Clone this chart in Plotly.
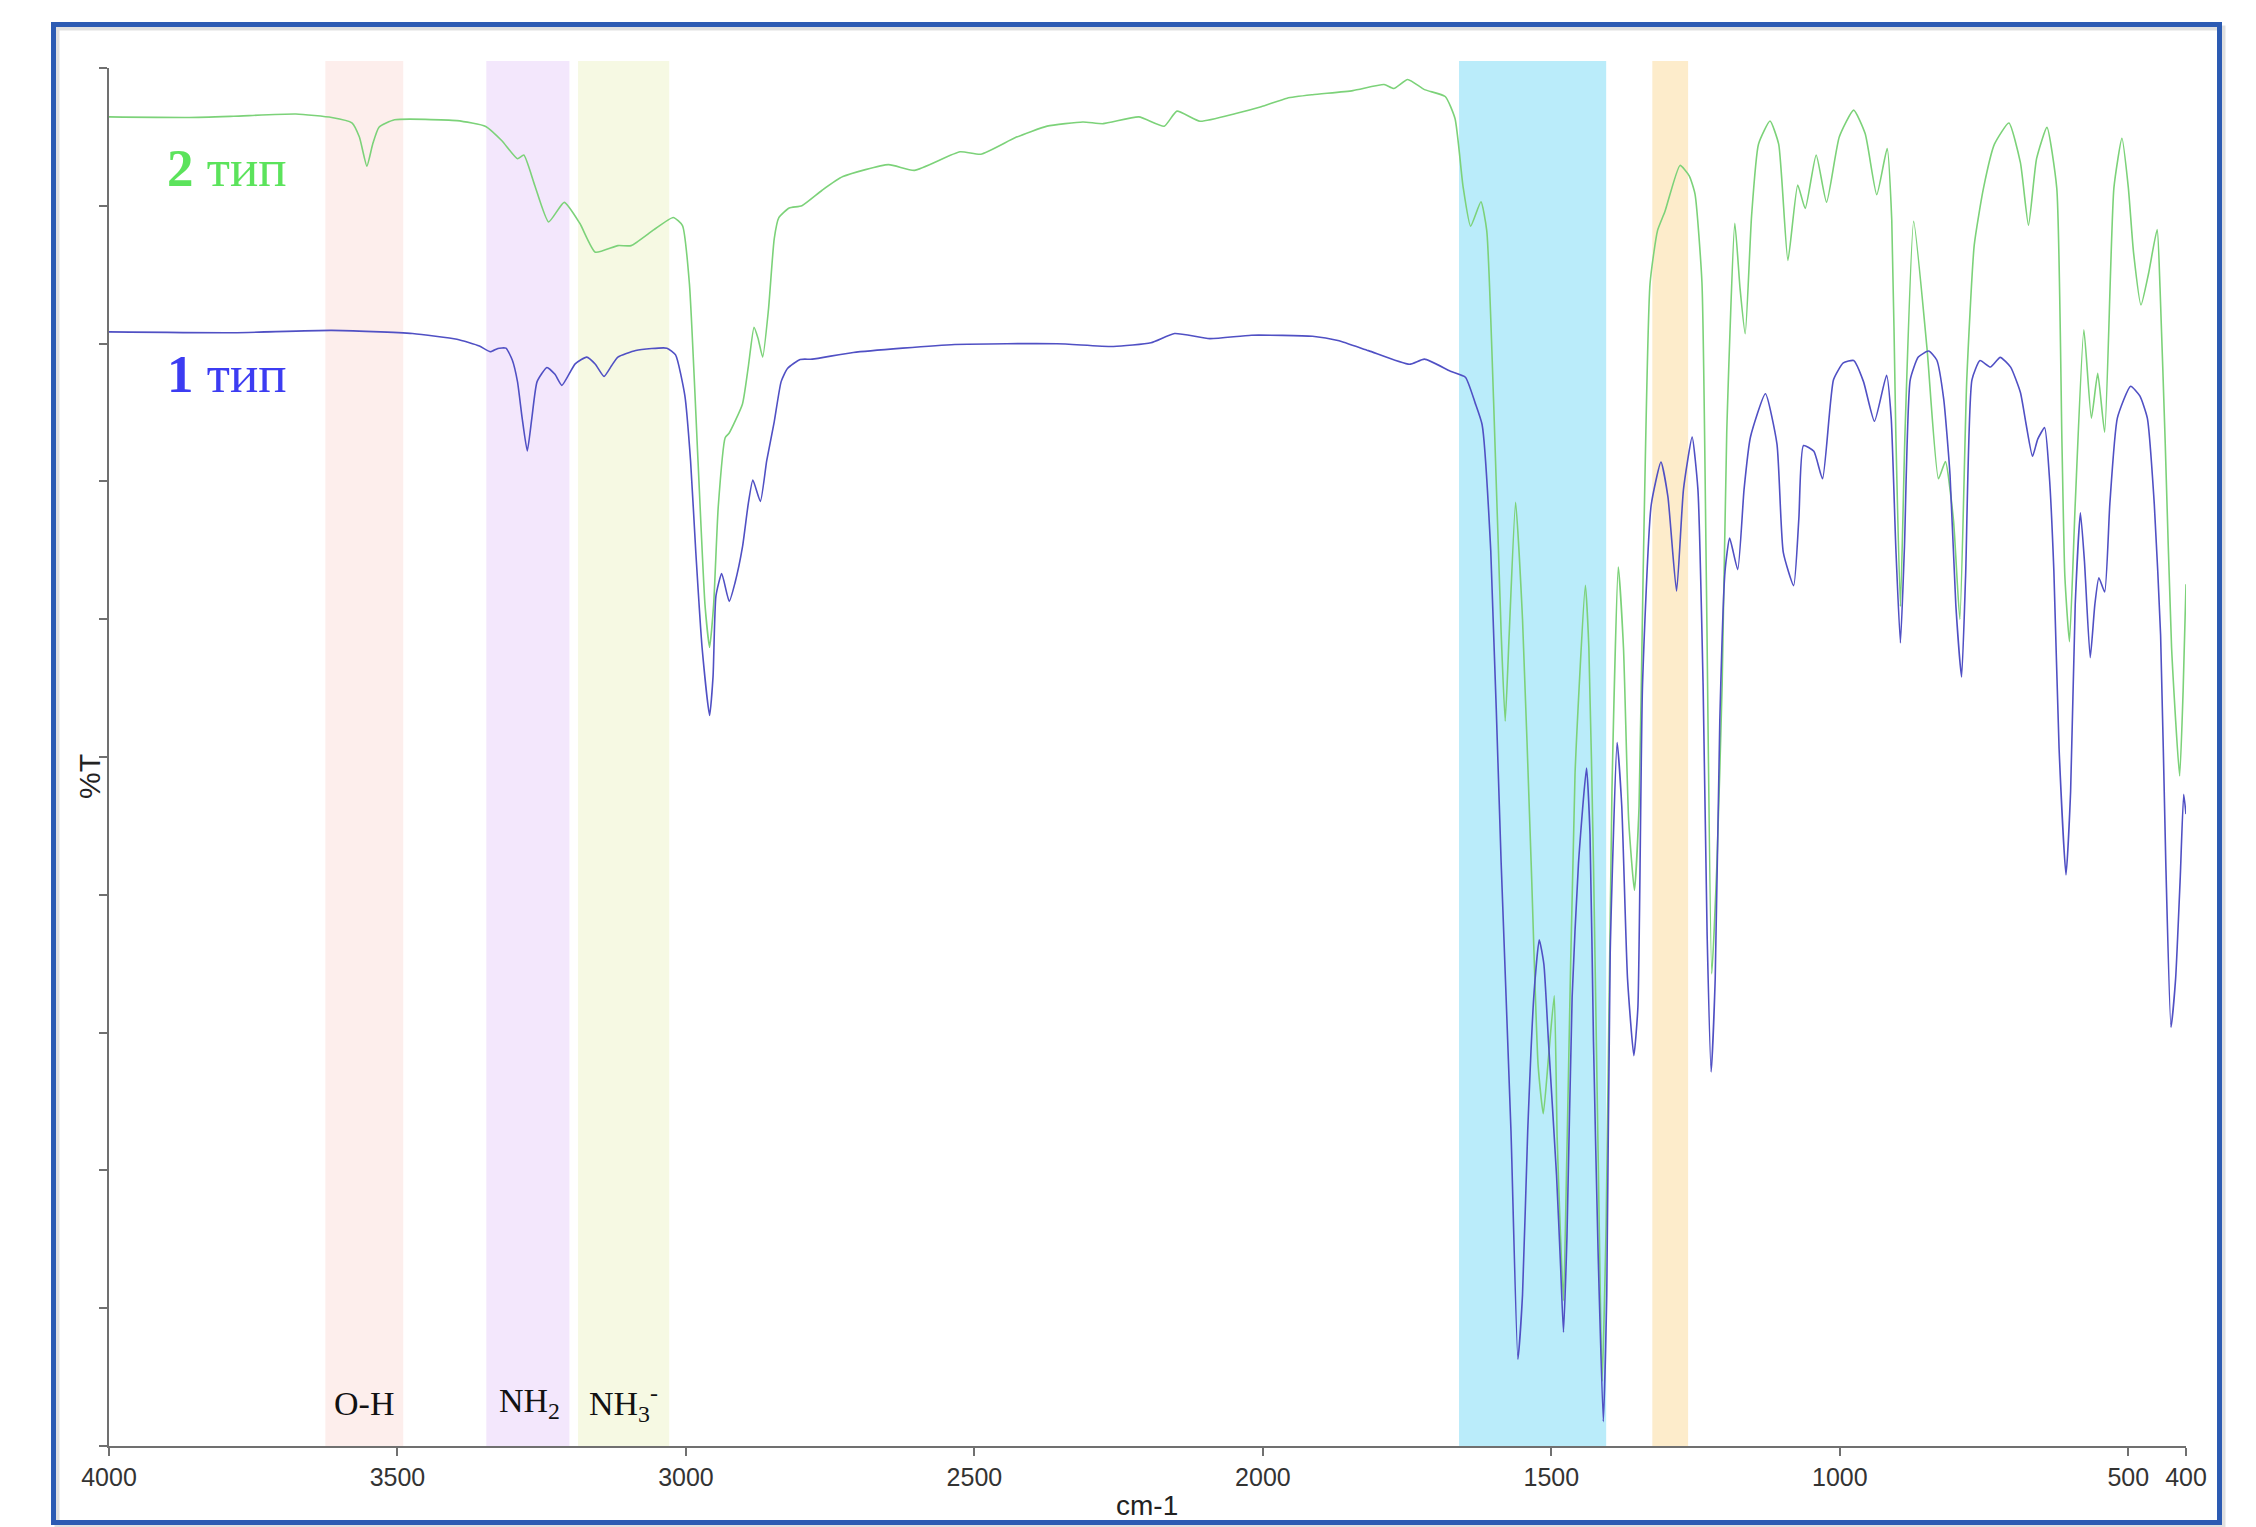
import plotly.graph_objects as go

# ---- data -------------------------------------------------------------
# IR spectrum, sample "2 тип" (wavenumber, cm-1 / transmittance, %)
wn_type2 = [4000, 3861, 3784, 3676, 3614, 3579, 3566, 3553, 3543, 3532, 3505, 3397,
            3347, 3319, 3292, 3281, 3262, 3238, 3211, 3184, 3157, 3118, 3095, 3056,
            3022, 3006, 2994, 2979, 2967, 2959, 2952, 2944, 2932, 2925, 2902, 2892,
            2882, 2875, 2867, 2857, 2847, 2839, 2821, 2799, 2764, 2728, 2649, 2604,
            2525, 2489, 2428, 2374, 2312, 2277, 2215, 2171, 2149, 2109, 2047, 2003,
            1958, 1914, 1844, 1790, 1773, 1749, 1720, 1684, 1667, 1653, 1640, 1622,
            1612, 1600, 1587, 1580, 1573, 1562, 1550, 1535, 1523, 1514, 1505, 1495,
            1490, 1485, 1479, 1473, 1459, 1441, 1435, 1427, 1419, 1412, 1405, 1395,
            1384, 1375, 1366, 1356, 1348, 1341, 1329, 1316, 1303, 1277, 1261, 1251,
            1239, 1231, 1222, 1213, 1204, 1196, 1182, 1173, 1164, 1153, 1141, 1121,
            1106, 1090, 1073, 1060, 1041, 1023, 1001, 976, 956, 936, 918, 910,
            903, 895, 887, 872, 849, 829, 817, 803, 792, 780, 767, 751,
            732, 707, 687, 673, 659, 641, 624, 615, 610, 602, 592, 577,
            564, 553, 541, 525, 511, 500, 491, 478, 465, 450, 445, 436,
            425, 411, 405, 400]
t_type2 = [96.45, 96.41, 96.5, 96.66, 96.41, 96.02, 94.99, 92.88, 94.47, 95.7, 96.24, 96.18,
           95.76, 94.72, 93.42, 93.68, 91.48, 88.83, 90.25, 88.73, 86.63, 87.11, 87.11, 88.25,
           89.15, 88.57, 84.35, 71.4, 61.06, 57.96, 61.06, 68.16, 73.17, 73.51, 75.62, 78.29,
           81.18, 80.38, 79.02, 82.46, 87.6, 89.14, 89.84, 90.01, 91.13, 92.12, 92.99, 92.57,
           93.92, 93.74, 94.97, 95.78, 96.08, 95.96, 96.45, 95.78, 96.87, 96.14, 96.7, 97.19,
           97.81, 98.06, 98.36, 98.8, 98.51, 99.17, 98.43, 97.93, 96.33, 91.38, 88.52, 90.29,
           88.2, 75.68, 58.98, 52.61, 58.98, 68.48, 60.02, 42.28, 27.66, 24.11, 28.18, 32.67,
           22.44, 16.18, 10.54, 21.4, 48.75, 62.46, 57.93, 42.28, 21.4, 4.7, 16.18, 47.49,
           63.78, 57.93, 45.41, 40.33, 46.45, 63.15, 84.34, 88.2, 89.6, 92.93, 92.17, 90.85,
           84.45, 61.69, 34.26, 42.28, 55.22, 73.59, 88.73, 84.03, 80.71, 89.25, 94.47, 96.15,
           94.47, 86.04, 91.51, 89.8, 93.69, 90.26, 94.99, 96.94, 95.22, 90.81, 94.15, 88.97,
           73.59, 60.92, 73.59, 88.87, 79.7, 70.19, 71.44, 67.17, 59.99, 77.37, 87.16, 91.28,
           94.47, 96.01, 93.13, 88.59, 93.42, 95.69, 91.28, 72.76, 63.15, 58.37, 68.37, 81.0,
           74.59, 77.84, 73.57, 91.28, 94.9, 91.34, 86.64, 82.8, 85.07, 88.27, 84.03, 72.76,
           57.93, 48.63, 54.8, 62.54]

# IR spectrum, sample "1 тип"
wn_type1 = [4000, 3784, 3614, 3474, 3397, 3358, 3339, 3326, 3312, 3301, 3292, 3284,
            3275, 3267, 3258, 3241, 3227, 3215, 3192, 3172, 3157, 3142, 3129, 3118,
            3087, 3033, 3018, 3002, 2992, 2983, 2972, 2959, 2953, 2948, 2938, 2925,
            2915, 2902, 2892, 2884, 2871, 2860, 2847, 2835, 2824, 2802, 2781, 2710,
            2534, 2357, 2259, 2194, 2153, 2092, 2020, 1914, 1870, 1817, 1746, 1720,
            1675, 1649, 1632, 1620, 1605, 1587, 1570, 1558, 1550, 1541, 1530, 1521,
            1513, 1505, 1491, 1484, 1479, 1473, 1464, 1453, 1439, 1433, 1427, 1419,
            1410, 1404, 1398, 1386, 1378, 1368, 1357, 1350, 1342, 1327, 1310, 1298,
            1283, 1271, 1256, 1246, 1237, 1230, 1223, 1216, 1208, 1199, 1191, 1177,
            1166, 1155, 1129, 1109, 1098, 1080, 1071, 1063, 1045, 1030, 1011, 994,
            976, 959, 940, 919, 911, 903, 895, 888, 878, 864, 846, 832,
            820, 809, 799, 789, 782, 771, 757, 739, 722, 704, 687, 677,
            666, 657, 645, 637, 629, 620, 608, 600, 592, 583, 576, 566,
            558, 551, 541, 532, 519, 496, 480, 467, 455, 444, 435, 426,
            418, 410, 404, 400]
t_type1 = [80.85, 80.79, 80.96, 80.73, 80.31, 79.82, 79.41, 79.65, 79.67, 78.81, 77.24, 74.63,
           72.21, 74.63, 77.24, 78.27, 77.77, 76.97, 78.53, 79.02, 78.5, 77.62, 78.39, 79.02,
           79.5, 79.67, 79.18, 76.26, 71.5, 64.93, 57.93, 53.01, 55.85, 61.69, 63.31, 61.29,
           62.63, 65.24, 68.37, 70.1, 68.55, 71.5, 74.32, 77.24, 78.2, 78.85, 78.87, 79.36,
           79.94, 79.99, 79.79, 80.06, 80.73, 80.36, 80.61, 80.53, 80.23, 79.49, 78.5, 78.87,
           78.0, 77.56, 75.68, 74.11, 64.93, 42.28, 22.86, 6.3, 10.96, 22.86, 32.88, 36.74,
           34.97, 29.33, 19.62, 13.05, 8.25, 15.14, 32.57, 42.28, 49.19, 44.36, 29.33, 14.09,
           1.77, 10.96, 35.8, 51.04, 46.45, 33.92, 28.33, 31.84, 55.22, 68.27, 71.4, 68.89,
           62.03, 69.42, 73.21, 69.42, 55.22, 37.06, 27.14, 33.92, 52.71, 63.47, 65.88, 63.6,
           69.42, 73.2, 76.36, 72.73, 64.85, 62.44, 67.33, 72.6, 72.18, 70.19, 77.37, 78.6,
           78.77, 77.24, 74.36, 77.7, 74.63, 65.24, 58.28, 65.24, 77.37, 79.02, 79.46, 78.81,
           75.99, 70.46, 61.06, 55.81, 63.15, 77.37, 78.77, 78.3, 79.0, 78.29, 76.45, 74.11,
           71.82, 73.07, 73.9, 70.46, 63.47, 50.63, 41.44, 47.49, 61.06, 67.73, 64.2, 57.21,
           61.06, 63.01, 61.98, 68.37, 74.59, 76.91, 76.2, 74.59, 68.37, 58.83, 42.28, 30.38,
           33.92, 41.23, 47.29, 45.86]

# highlighted absorption regions (cm-1)
band_start = [3625, 3346, 3187, 1660, 1325]
band_end = [3490, 3202, 3029, 1405, 1263]

# group labels under the bands
group_labels = ["O-H", "NH<sub>2</sub>", "NH<sub>3</sub><sup>-</sup>"]
group_label_wn = [3558, 3272, 3108]

x_tick_values = [4000, 3500, 3000, 2500, 2000, 1500, 1000, 500, 400]
y_tick_values = [0, 10, 20, 30, 40, 50, 60, 70, 80, 90, 100]

# ---- styling ----------------------------------------------------------
band_colors = ["#FDEEEC", "#F3E7FC", "#F6F9E3", "#BAECFA", "#FDECCB"]
green_line = "#7CD279"
blue_line = "#5050C4"
green_text = "#5BE35B"
blue_text = "#3C3CF2"
axis_gray = "#707070"

W, H = 2256, 1527
L, R, T, B = 109, 70, 68, 81
plot_w = W - L - R
plot_h = H - T - B


def px_x(px):
    return (px - L) / plot_w


def px_y(py):
    return (H - B - py) / plot_h


fig = go.Figure()

fig.add_trace(go.Scatter(x=wn_type2, y=t_type2, mode="lines", name="2 тип",
                         line=dict(color=green_line, width=1.6, shape="spline", smoothing=0.5),
                         showlegend=False))
fig.add_trace(go.Scatter(x=wn_type1, y=t_type1, mode="lines", name="1 тип",
                         line=dict(color=blue_line, width=1.6, shape="spline", smoothing=0.5),
                         showlegend=False))

shapes = []
for x0, x1, col in zip(band_start, band_end, band_colors):
    shapes.append(dict(type="rect", xref="x", yref="paper", x0=x0, x1=x1,
                       y0=0, y1=px_y(61), fillcolor=col, line=dict(width=0),
                       layer="below"))

# frame around the whole chart, with a soft shadow
shapes.append(dict(type="rect", xref="paper", yref="paper",
                   x0=px_x(57), x1=px_x(2223), y0=px_y(1526), y1=px_y(28),
                   line=dict(color="rgba(0,0,0,0.12)", width=5), layer="below"))
shapes.append(dict(type="rect", xref="paper", yref="paper",
                   x0=px_x(53.5), x1=px_x(2219.5), y0=px_y(1522.5), y1=px_y(24.5),
                   line=dict(color="#2C5BB3", width=5), layer="above"))

annotations = []
for txt, wn in zip(group_labels, group_label_wn):
    annotations.append(dict(text=txt, x=wn, xref="x", y=px_y(1403), yref="paper",
                            xanchor="center", yanchor="middle", showarrow=False,
                            font=dict(family="Liberation Serif", size=34, color="#111111")))

annotations.append(dict(text="<b>2</b> тип", x=px_x(165), y=px_y(168), xref="paper", yref="paper",
                        xanchor="left", yanchor="middle", showarrow=False,
                        font=dict(family="Liberation Serif", size=53, color=green_text)))
annotations.append(dict(text="<b>1</b> тип", x=px_x(165), y=px_y(374), xref="paper", yref="paper",
                        xanchor="left", yanchor="middle", showarrow=False,
                        font=dict(family="Liberation Serif", size=53, color=blue_text)))

annotations.append(dict(text="%T", x=px_x(89), y=px_y(777), xref="paper", yref="paper",
                        xanchor="center", yanchor="middle", textangle=-90, showarrow=False,
                        font=dict(family="Liberation Sans", size=30, color="#222222")))
annotations.append(dict(text="cm-1", x=px_x(1147), y=px_y(1505), xref="paper", yref="paper",
                        xanchor="center", yanchor="middle", showarrow=False,
                        font=dict(family="Liberation Sans", size=28, color="#222222")))

fig.update_layout(
    width=W, height=H,
    margin=dict(l=L, r=R, t=T, b=B, pad=0),
    paper_bgcolor="white", plot_bgcolor="white",
    shapes=shapes, annotations=annotations,
    showlegend=False,
)
fig.update_xaxes(range=[4000, 400], tickvals=x_tick_values,
                 ticktext=[str(v) for v in x_tick_values],
                 ticks="outside", ticklen=8, tickwidth=1.5, tickcolor=axis_gray,
                 showline=True, linecolor=axis_gray, linewidth=1.5,
                 showgrid=False, zeroline=False,
                 tickfont=dict(family="Liberation Sans", size=25, color="#333333"))
fig.update_yaxes(range=[0, 100], tickvals=y_tick_values, showticklabels=False,
                 ticks="outside", ticklen=8, tickwidth=1.5, tickcolor=axis_gray,
                 showline=True, linecolor=axis_gray, linewidth=1.5,
                 showgrid=False, zeroline=False)

fig.write_html("out.html")
